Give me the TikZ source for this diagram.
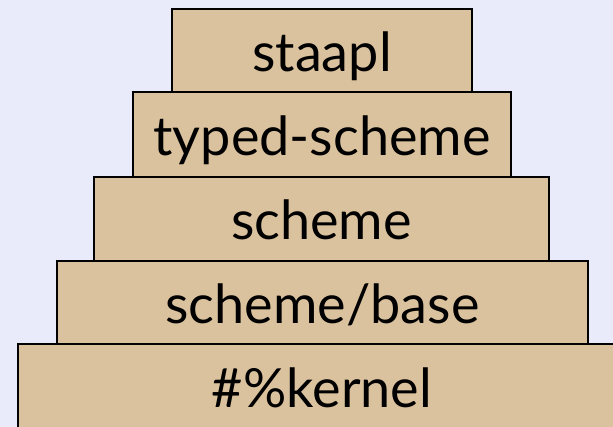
\documentclass[tikz,border=0pt]{standalone}
\usepackage{fontspec}
\setmainfont{Lato}
\definecolor{bgcol}{RGB}{233,235,250}
\definecolor{tancol}{RGB}{219,194,158}
\begin{document}
\begin{tikzpicture}[x=1pt,y=-1pt,
  layer/.style={draw=black, line width=1.6pt, fill=tancol, rectangle, inner sep=0pt,
    font=\fontsize{54}{60}\selectfont, text height=50pt, text depth=8pt}]
\fill[bgcol] (0,0) rectangle (613,427);
\useasboundingbox (0,0) rectangle (613,427);
\node[layer, minimum width=608pt, minimum height=84pt] (kernel) at (322,386) {\#\%kernel};
\node[layer, minimum width=531pt, minimum height=83pt] (base) at (322.5,302.5) {scheme/base};
\node[layer, minimum width=455pt, minimum height=84pt] (scheme) at (321.5,219) {scheme};
\node[layer, minimum width=378pt, minimum height=85pt] (typed) at (322,134.5) {typed-scheme};
\node[layer, minimum width=300pt, minimum height=83pt] (staapl) at (322,50.5) {staapl};
\end{tikzpicture}
\end{document}
